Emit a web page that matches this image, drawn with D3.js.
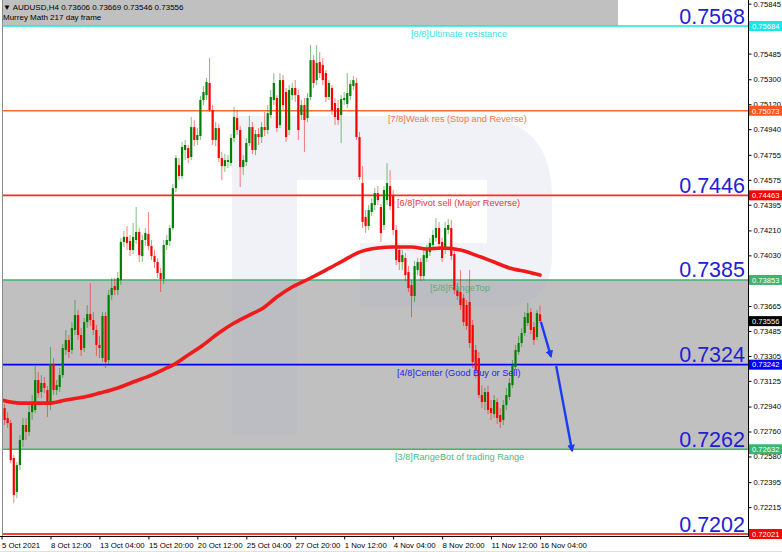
<!DOCTYPE html>
<html><head><meta charset="utf-8">
<script src="https://cdn.jsdelivr.net/npm/d3@7"></script>
<style>html,body{margin:0;padding:0;background:#fff;overflow:hidden}</style>
</head><body>
<svg id="chart" width="782" height="552"></svg>
<script>
// ---------------- DATA ----------------
const symbol = "AUDUSD,H4";
const indicatorName = "Murrey Math 217 day frame";

const openP = [
.72987,.72929,.72857,.72821,.72569,.72324,.72518,.72699,.72807,.72757,
.72900,.72915,.73131,.73045,.73110,.73059,.72951,.73247,.73059,.73081,
.73167,.73348,.73420,.73348,.73492,.73600,.73456,.73362,.73549,.73607,
.73564,.73492,.73384,.73290,.73593,.73275,.73744,.73809,.73780,.73852,
.74127,.74163,.74134,.74069,.74141,.74199,.74025,.74141,.74184,.74098,
.74025,.73982,.73903,.73859,.74105,.74134,.74227,.74515,.74681,.74602,
.74790,.74804,.74739,.74955,.74862,.74891,.75150,.75186,.75273,.75078,
.74862,.74948,.74732,.74674,.74703,.74696,.74876,.75020,.74934,.74667,
.74703,.74840,.74955,.74790,.74905,.74883,.74955,.74934,.75042,.75150,
.75165,.74970,.75294,.75208,.74934,.75186,.75237,.75186,.75042,.75114,
.75020,.75172,.75438,.75294,.75424,.75402,.75345,.75172,.75237,.75128,
.75092,.75042,.75150,.75121,.75179,.75251,.75273,.74883,.74551,.74307,
.74242,.74343,.74393,.74479,.74379,.74249,.74429,.74530,.74458,.74213,
.74069,.73982,.74011,.73910,.73816,.73737,.73924,.73982,.73881,.74011,
.74054,.74105,.74156,.74227,.74127,.74069,.74213,.74227,.74040,.73780,
.73766,.73722,.73672,.73694,.73528,.73348,.73290,.73023,.72973,.73045,
.72929,.72886,.72973,.72879,.72843,.72951,.73009,.73095,.73225,.73333,
.73398,.73470,.73542,.73621,.73513,.73441,.73606];
const highP = [
.73009,.72958,.72900,.72843,.72591,.72540,.72735,.72857,.72857,.72951,
.73023,.73232,.73189,.73167,.73153,.73088,.73369,.73290,.73131,.73218,
.73391,.73492,.73456,.73549,.73708,.73636,.73506,.73578,.73672,.73830,
.73621,.73528,.73449,.73621,.73621,.73780,.73867,.73867,.73910,.74156,
.74206,.74242,.74177,.74264,.74379,.74228,.74177,.74228,.74343,.74141,
.74069,.74011,.73939,.74141,.74177,.74249,.74544,.74753,.74732,.74847,
.74862,.74826,.75028,.75006,.74948,.75179,.75251,.75309,.75453,.75114,
.74992,.74977,.74775,.74761,.74753,.74905,.75100,.75078,.74963,.74753,
.74876,.75035,.74992,.74934,.74948,.74992,.75064,.75114,.75222,.75345,
.75186,.75345,.75330,.75237,.75258,.75273,.75294,.75222,.75150,.75165,
.75201,.75547,.75474,.75547,.75496,.75453,.75366,.75294,.75258,.75165,
.75150,.75186,.75208,.75345,.75294,.75323,.75309,.74919,.74674,.74357,
.74393,.74443,.74515,.74530,.74400,.74530,.74696,.74645,.74501,.74249,
.74105,.74069,.74047,.73953,.73852,.73989,.74011,.74011,.74069,.74105,
.74156,.74213,.74299,.74271,.74156,.74271,.74292,.74285,.74069,.73830,
.73924,.73751,.73708,.73924,.73564,.73384,.73333,.73095,.73074,.73088,
.72987,.73023,.73001,.72929,.72987,.73074,.73146,.73275,.73384,.73449,
.73506,.73621,.73687,.73650,.73549,.73636,.73669];
const lowP = [
.72857,.72807,.72785,.72532,.72244,.72280,.72482,.72648,.72699,.72728,
.72843,.72893,.73001,.73001,.73037,.72864,.72915,.73023,.73023,.73045,
.73146,.73312,.73290,.73319,.73456,.73420,.73305,.73333,.73506,.73521,
.73456,.73305,.73290,.73261,.73218,.73247,.73708,.73744,.73744,.73816,
.74091,.74069,.74025,.74040,.74112,.73982,.73982,.74098,.74069,.73996,
.73939,.73867,.73766,.73823,.74069,.74098,.74213,.74487,.74573,.74580,
.74717,.74696,.74717,.74818,.74826,.74862,.75114,.75150,.75064,.74826,
.74818,.74703,.74573,.74631,.74660,.74674,.74847,.74898,.74523,.74609,
.74674,.74818,.74761,.74753,.74826,.74840,.74891,.74905,.75020,.75114,
.74919,.74948,.75078,.74847,.74898,.75150,.75136,.74862,.75006,.74775,
.74992,.75150,.75237,.75258,.75309,.75258,.75136,.75150,.75042,.74970,
.74970,.74840,.75114,.75092,.75150,.75222,.74862,.74573,.74227,.74192,
.74213,.74314,.74357,.74393,.74127,.74213,.74393,.74357,.74177,.73960,
.73924,.73924,.73845,.73766,.73585,.73694,.73888,.73845,.73852,.73982,
.74025,.74083,.74127,.74083,.73982,.74040,.74184,.73996,.73751,.73708,
.73636,.73521,.73492,.73362,.73218,.73146,.73001,.72929,.72915,.72886,
.72843,.72857,.72814,.72785,.72807,.72915,.72987,.73074,.73203,.73312,
.73369,.73449,.73521,.73463,.73384,.73420,.73546];
const closeP = [
.72900,.72843,.72821,.72554,.72302,.72518,.72699,.72807,.72757,.72900,
.72951,.73131,.73037,.73110,.73074,.72951,.73247,.73059,.73095,.73167,
.73362,.73420,.73333,.73506,.73600,.73456,.73348,.73549,.73607,.73564,
.73492,.73384,.73362,.73593,.73261,.73744,.73795,.73780,.73867,.74127,
.74163,.74120,.74069,.74163,.74199,.74032,.74141,.74192,.74098,.74025,
.73982,.73903,.73859,.74105,.74141,.74227,.74515,.74732,.74602,.74811,
.74826,.74732,.74955,.74862,.74898,.75150,.75208,.75280,.75078,.74862,
.74948,.74732,.74674,.74717,.74717,.74876,.75028,.74934,.74667,.74717,
.74840,.74955,.74790,.74905,.74883,.74955,.74934,.75056,.75172,.75273,
.74948,.75294,.75114,.74883,.75222,.75237,.75186,.74934,.75114,.75006,
.75165,.75438,.75273,.75417,.75345,.75294,.75172,.75273,.75078,.75028,
.75006,.75157,.75165,.75201,.75265,.75294,.74883,.74595,.74271,.74242,
.74357,.74407,.74479,.74429,.74191,.74501,.74551,.74386,.74213,.73996,
.73982,.74032,.73888,.73795,.73737,.73953,.73982,.73881,.74032,.74069,
.74120,.74177,.74227,.74112,.74011,.74227,.74249,.74025,.73780,.73737,
.73672,.73549,.73521,.73398,.73261,.73203,.73023,.72973,.73045,.72915,
.72893,.72987,.72857,.72829,.72951,.73023,.73110,.73239,.73348,.73398,
.73470,.73585,.73614,.73492,.73420,.73614,.73556];

// 217-period moving average (bar index, value)
const maIdx = [0,6,11,16,21,27,32,38,43,49,54,56,61,65,71,76,81,85,90,95,101,106,112,117,123,128,134,139,144,150,155,161,166,172,176];
const maVal = [.72987,.72965,.72965,.72965,.72987,.73009,.73037,.73074,.73117,.73167,.73218,.73239,.73312,.73369,.73470,.73542,.73600,.73643,.73730,.73802,.73867,.73924,.73996,.74054,.74083,.74090,.74090,.74076,.74083,.74069,.74032,.73982,.73939,.73910,.73888];

// Murrey Math levels
const levelPrices = [0.75684, 0.75073, 0.74463, 0.73853, 0.73242, 0.72632, 0.72021];
const levelNames = ["[8/8]Ultimate resistance","[7/8]Weak res (Stop and Reverse)","[6/8]Pivot sell (Major Reverse)","[5/8]RangeTop","[4/8]Center (Good Buy or Sell)","[3/8]RangeBot of trading Range",""];
const levelBig = ["0.7568","","0.7446","0.7385","0.7324","0.7262","0.7202"];

// axes
const xTickIdx = [0,16,32,48,64,80,96,112,128,144,160,176];
const xTickLabels = ["5 Oct 2021","8 Oct 12:00","13 Oct 04:00","15 Oct 20:00","20 Oct 12:00","25 Oct 04:00","27 Oct 20:00","1 Nov 12:00","4 Nov 04:00","8 Nov 20:00","11 Nov 12:00","16 Nov 04:00"];
const yTicks = [0.75845,0.75485,0.75300,0.75120,0.74940,0.74755,0.74575,0.74395,0.74210,0.74030,0.73665,0.73485,0.73305,0.73125,0.72940,0.72760,0.72580,0.72395,0.72215];

// forecast arrows [barIndex, price]
const arrowFrom = [[176.3, 0.73550],[181.3, 0.73232]];
const arrowTo   = [[179.6, 0.73300],[186.5, 0.72620]];

// ---------------- STYLE ----------------
const levelLineColors = ["#1fe3e6","#ff6a2b","#ff2a2a","#3cb371","#0000ff","#3cb371","#ff0000"];
const levelTextColors = ["#3fdfe2","#f07a52","#e63a44","#5aad78","#2020ff","#4dba78",""];
const levelBoxColors  = ["#19e6ee","#ff5522","#ff0000","#3cb371","#0000ff","#3cb371","#ff0000"];
const levelTextX = [411, 388, 397, 430, 397, 395, 0];

// ---------------- DRAW ----------------
const W = 782, H = 552;
const plot = {left:3, right:748, top:0, bottom:536};
const font = "'Liberation Sans', Arial, sans-serif";
const svg = d3.select("#chart");
const x = d3.scaleLinear().domain([0,176]).range([1.55,540]);
const y = d3.scaleLinear().domain([0.72021,0.75684]).range([534,26]);

svg.append("rect").attr("width",W).attr("height",H).attr("fill","#fff");
const defs = svg.append("defs");
defs.append("clipPath").attr("id","clip").append("rect")
  .attr("x",plot.left).attr("y",plot.top).attr("width",plot.right-plot.left).attr("height",plot.bottom-plot.top);
defs.append("marker").attr("id","ah").attr("viewBox","0 0 10 10").attr("refX",8).attr("refY",5)
  .attr("markerWidth",3.2).attr("markerHeight",3.2).attr("orient","auto")
  .append("path").attr("d","M0,0 L10,5 L0,10 Z").attr("fill","#1b3cf5");

const g = svg.append("g").attr("clip-path","url(#clip)");

// header band (above 8/8)
g.append("rect").attr("x",0).attr("y",0).attr("width",618).attr("height",y(levelPrices[0])).attr("fill","#c0c0c0");
// trading range fill (3/8 .. 5/8)
g.append("rect").attr("x",plot.left).attr("y",y(levelPrices[3]))
  .attr("width",plot.right-plot.left).attr("height",y(levelPrices[5])-y(levelPrices[3])).attr("fill","#c0c0c0");
// watermark logo
g.append("path").attr("d","M232,116 H470 Q552,116 552,198 V255 Q552,307 500,307 H360 V243 H487 V180 H297 V435 H232 Z")
  .attr("fill","rgb(160,175,205)").attr("fill-opacity",0.16);

// level lines
g.selectAll("line.lvl").data(levelPrices).join("line").attr("class","lvl")
  .attr("x1",plot.left).attr("x2",plot.right).attr("y1",d=>y(d)).attr("y2",d=>y(d))
  .attr("stroke",(d,i)=>levelLineColors[i]).attr("stroke-width",1.6);

// candles
const candles = openP.map((o,i)=>({i,o,h:highP[i],l:lowP[i],c:closeP[i]}));
const col = d => d.c >= d.o ? "#008000" : "#ff0000";
g.selectAll("line.wick").data(candles).join("line").attr("class","wick")
  .attr("x1",d=>x(d.i)).attr("x2",d=>x(d.i)).attr("y1",d=>y(d.h)).attr("y2",d=>y(d.l))
  .attr("stroke",col).attr("stroke-opacity",0.5).attr("stroke-width",1);
g.selectAll("rect.body").data(candles).join("rect").attr("class","body")
  .attr("x",d=>x(d.i)-1.1).attr("width",2.2)
  .attr("y",d=>y(Math.max(d.o,d.c))).attr("height",d=>Math.max(1,Math.abs(y(d.o)-y(d.c))))
  .attr("fill",col);

// moving average
const maLine = d3.line().x(d=>x(d[0])).y(d=>y(d[1])).curve(d3.curveMonotoneX);
g.append("path").datum(maIdx.map((d,k)=>[d,maVal[k]])).attr("d",maLine)
  .attr("fill","none").attr("stroke","#f01a1a").attr("stroke-width",3.6).attr("stroke-linecap","round");

// arrows
g.selectAll("line.arrow").data(arrowFrom).join("line").attr("class","arrow")
  .attr("x1",d=>x(d[0])).attr("y1",d=>y(d[1]))
  .attr("x2",(d,k)=>x(arrowTo[k][0])).attr("y2",(d,k)=>y(arrowTo[k][1]))
  .attr("stroke","#1b3cf5").attr("stroke-width",2.4).attr("marker-end","url(#ah)");

// level texts
g.selectAll("text.lname").data(levelNames.filter(s=>s)).join("text").attr("class","lname")
  .attr("x",(d,i)=>levelTextX[i]).attr("y",(d,i)=>y(levelPrices[i])+11)
  .attr("font-family",font).attr("font-size",9.2).attr("fill",(d,i)=>levelTextColors[i]).text(d=>d);

// big level values
g.selectAll("text.big").data(levelPrices).join("text").attr("class","big")
  .attr("x",745).attr("y",d=>y(d)-2.5).attr("text-anchor","end")
  .attr("font-family",font).attr("font-size",21.5).attr("fill","#2121d4")
  .text((d,i)=>levelBig[i]);

// frame lines
svg.append("line").attr("x1",2.5).attr("x2",2.5).attr("y1",0).attr("y2",plot.bottom).attr("stroke","#8a8a8a");
svg.append("line").attr("x1",plot.right+0.5).attr("x2",plot.right+0.5).attr("y1",0).attr("y2",plot.bottom+1).attr("stroke","#000");
svg.append("line").attr("x1",0).attr("x2",plot.right+1).attr("y1",plot.bottom+0.5).attr("y2",plot.bottom+0.5).attr("stroke","#000");

// right axis
const ya = svg.append("g").attr("transform",`translate(${plot.right+0.5},0)`)
  .call(d3.axisRight(y).tickValues(yTicks).tickSize(3).tickPadding(2).tickFormat(d3.format(".5f")));
ya.select(".domain").remove();
ya.selectAll("text").attr("font-family",font).attr("font-size",7.6).attr("fill","#000");
ya.selectAll("line").attr("stroke","#000");

// level value boxes on axis
const lastClose = closeP[closeP.length-1];
const boxes = levelPrices.map((p,i)=>({p,c:levelBoxColors[i]})).concat([{p:lastClose,c:"#000"}]);
const bg = svg.append("g");
bg.selectAll("rect").data(boxes).join("rect")
  .attr("x",plot.right+1).attr("y",d=>y(d.p)-5).attr("width",W-plot.right-1).attr("height",10).attr("fill",d=>d.c);
bg.selectAll("text").data(boxes).join("text")
  .attr("x",plot.right+4).attr("y",d=>y(d.p)+2.8).attr("font-family",font).attr("font-size",7.6).attr("fill","#fff")
  .text(d=>d3.format(".5f")(d.p));

// bottom axis
const xa = svg.append("g").attr("transform",`translate(0,${plot.bottom+0.5})`)
  .call(d3.axisBottom(x).tickValues(xTickIdx).tickSize(3).tickPadding(3).tickFormat((d,k)=>xTickLabels[k]));
xa.select(".domain").remove();
xa.selectAll("text").attr("text-anchor","start").attr("font-family",font).attr("font-size",7.8).attr("fill","#000");
xa.selectAll("line").attr("stroke","#000");
svg.append("line").attr("x1",0).attr("x2",W).attr("y1",551.5).attr("y2",551.5).attr("stroke","#e0e0e0");

// header
const f5 = d3.format(".5f");
const last = candles[candles.length-1];
svg.append("text").attr("x",3).attr("y",10).attr("font-family",font).attr("font-size",8).attr("fill","#000")
  .text(`▼ ${symbol}  ${f5(last.o)} ${f5(last.h)} ${f5(last.l)} ${f5(last.c)}`);
svg.append("text").attr("x",3).attr("y",19.5).attr("font-family",font).attr("font-size",8).attr("fill","#000")
  .text(indicatorName);
</script>
</body></html>
